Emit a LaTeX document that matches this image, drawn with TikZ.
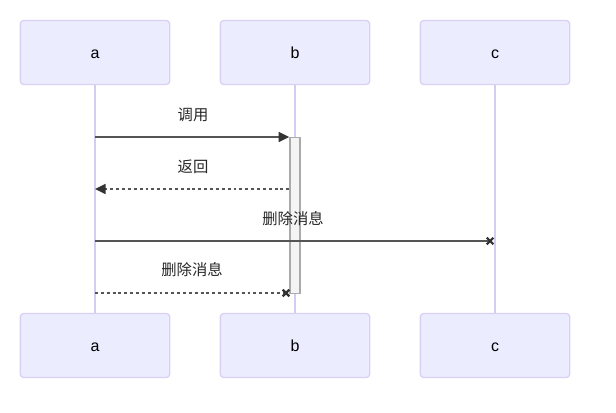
\documentclass[tikz,border=0pt]{standalone}
\usepackage{fontspec}
\setmainfont{Liberation Sans}
\newfontfamily\cjk{Noto Sans CJK SC}
\usetikzlibrary{arrows.meta}
\definecolor{actorfill}{HTML}{ECECFF}
\definecolor{actorline}{HTML}{DAD0F4}
\definecolor{lifeline}{HTML}{D6CCF2}
\definecolor{msgline}{HTML}{555555}
\definecolor{tipcol}{HTML}{333333}
\definecolor{actfill}{HTML}{F4F4F4}
\definecolor{actline}{HTML}{AAAAAA}
\tikzset{
  actor/.style={draw=actorline, fill=actorfill, line width=1pt, rounded corners=2.5pt,
    minimum width=112pt, minimum height=48pt, inner sep=0pt, text height=8.6pt, text depth=0pt,
    font=\fontsize{12}{14}\selectfont},
  life/.style={draw=lifeline, line width=1.1pt},
  msg/.style={draw=msgline, line width=1.3pt},
  reply/.style={draw=msgline, line width=1.3pt, dash pattern=on 2.2pt off 2.2pt},
  tip/.style={-{Triangle[length=8pt,width=7.5pt,color=tipcol]}},
  lbl/.style={font=\cjk\fontsize{11.5}{13}\selectfont, text=black!85, inner sep=0pt},
  crossline/.style={draw=tipcol, line width=1.6pt},
  actbox/.style={draw=actline, fill=actfill, line width=1.1pt}
}
\newcommand{\crossmark}[1]{%
  \draw[crossline] ([shift={(-3.3,-3.3)}]#1) -- ([shift={(3.3,3.3)}]#1);
  \draw[crossline] ([shift={(-3.3,3.3)}]#1) -- ([shift={(3.3,-3.3)}]#1);}
\begin{document}
\begin{tikzpicture}[x=0.75pt,y=-0.75pt]
\useasboundingbox (0,0) rectangle (616,413);
% actors
\node[actor] (a) at (95,52.5) {a};
\node[actor] (b) at (295,52.5) {b};
\node[actor] (c) at (495,52.5) {c};
\node[actor] (a2) at (95,345.5) {a};
\node[actor] (b2) at (295,345.5) {b};
\node[actor] (c2) at (495,345.5) {c};
% lifelines
\draw[life] (a.south) -- (a2.north);
\draw[life] (b.south) -- (b2.north);
\draw[life] (c.south) -- (c2.north);
% activation
\node[actbox, minimum width=7.5pt, minimum height=117pt, inner sep=0pt, anchor=north] (act) at (295,137) {};
% coordinates
\coordinate (m1s) at (95,137);
\coordinate (m2s) at (95,189);
\coordinate (m3s) at (95,241);
\coordinate (m3e) at (490,241);
\coordinate (m4s) at (95,293);
\coordinate (m4e) at (286,293);
% messages
\draw[msg, tip] (m1s) -- (m1s -| act.west);
\node[lbl] at (193,115) {调用};
\draw[reply, tip] (m2s -| act.west) -- (m2s);
\node[lbl] at (193,167) {返回};
\draw[msg] (m3s) -- (m3e);
\crossmark{m3e}
\node[lbl] at (293,219) {删除消息};
\draw[reply] (m4s) -- (m4e);
\crossmark{m4e}
\node[lbl] at (192,270) {删除消息};
\end{tikzpicture}
\end{document}
